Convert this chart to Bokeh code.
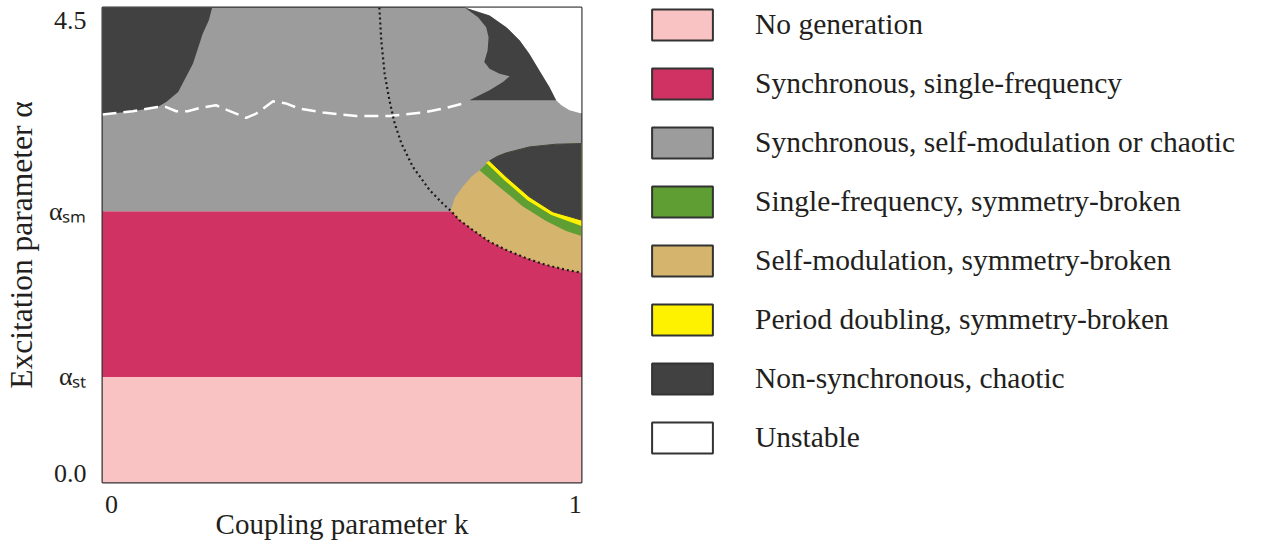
from bokeh.plotting import figure
from bokeh.models import FixedTicker, Legend, LegendItem
from bokeh.embed import file_html
from bokeh.resources import INLINE

# ---------------- data ----------------
alpha_st = 1.0
alpha_sm = 2.57
alpha_max = 4.5

band_bottom = [0.0, alpha_st, alpha_sm]
band_top = [alpha_st, alpha_sm, alpha_max]

# top-left non-synchronous chaotic region
tl_k = [0.0, 0.229, 0.222, 0.209, 0.189, 0.158, 0.133, 0.115, 0.063, 0.0]
tl_a = [4.5, 4.5, 4.38, 4.25, 3.97, 3.70, 3.605, 3.557, 3.517, 3.486]

# unstable (white) region, top right
un_k = [0.756, 0.808, 0.843, 0.871, 0.891, 0.912, 0.933, 0.947, 0.958, 0.975, 0.996, 1.0, 1.0]
un_a = [4.5, 4.424, 4.314, 4.188, 4.062, 3.904, 3.747, 3.621, 3.574, 3.526, 3.501, 3.498, 4.5]

# top-right non-synchronous chaotic region
tr_k = [0.756, 0.808, 0.843, 0.871, 0.891, 0.912, 0.933, 0.947, 0.766, 0.808, 0.836,
        0.850, 0.829, 0.808, 0.797, 0.804, 0.806, 0.801, 0.784]
tr_a = [4.5, 4.424, 4.314, 4.188, 4.062, 3.904, 3.747, 3.621, 3.621, 3.715, 3.794,
        3.848, 3.873, 3.920, 3.983, 4.093, 4.219, 4.314, 4.408]

# self-modulation, symmetry-broken (tan)
tan_k = [0.727, 0.745, 0.773, 0.808, 0.843, 0.885, 0.926, 0.968, 1.0, 1.0, 0.947, 0.891,
         0.843, 0.825, 0.808, 0.787, 0.770, 0.752, 0.735]
tan_a = [2.574, 2.486, 2.392, 2.281, 2.203, 2.124, 2.061, 2.014, 1.988, 3.211, 3.205, 3.179,
         3.123, 3.091, 3.047, 2.959, 2.896, 2.801, 2.692]

# single-frequency, symmetry-broken (green)
green_k = [0.787, 0.829, 0.877, 0.926, 0.968, 1.0, 1.0, 0.947, 0.891, 0.843, 0.825, 0.808]
green_a = [2.959, 2.798, 2.618, 2.477, 2.382, 2.335, 3.211, 3.205, 3.179, 3.123, 3.091, 3.047]

# period doubling, symmetry-broken (yellow)
yellow_k = [0.801, 0.839, 0.887, 0.937, 1.0, 1.0, 0.947, 0.891, 0.843, 0.825, 0.808]
yellow_a = [3.030, 2.864, 2.675, 2.534, 2.430, 3.211, 3.205, 3.179, 3.123, 3.091, 3.047]

# non-synchronous chaotic bubble (right)
bub_k = [0.808, 0.843, 0.891, 0.940, 1.0, 1.0, 0.947, 0.891, 0.843, 0.825]
bub_a = [3.047, 2.896, 2.707, 2.565, 2.486, 3.211, 3.205, 3.179, 3.123, 3.091]

# white dashed line
dash_k = [0.0, 0.063, 0.115, 0.133, 0.154, 0.178, 0.203, 0.237, 0.262, 0.300, 0.321,
          0.356, 0.384, 0.411, 0.460, 0.530, 0.599, 0.669, 0.717, 0.752]
dash_a = [3.486, 3.517, 3.557, 3.557, 3.517, 3.517, 3.548, 3.574, 3.526, 3.454, 3.495,
          3.611, 3.590, 3.542, 3.505, 3.472, 3.472, 3.505, 3.548, 3.590]

# black dotted boundary
dot_k = [0.578, 0.582, 0.589, 0.599, 0.610, 0.624, 0.648, 0.683, 0.710, 0.727, 0.745,
         0.773, 0.808, 0.843, 0.885, 0.926, 0.968, 1.0]
dot_a = [4.5, 4.188, 3.873, 3.621, 3.401, 3.212, 2.990, 2.770, 2.644, 2.574, 2.486,
         2.392, 2.281, 2.203, 2.124, 2.061, 2.014, 1.988]

x_tick_pos = [0.019, 0.987]
x_tick_text = ["0", "1"]
y_tick_pos = [0.085, alpha_st, alpha_sm, 4.377]
y_tick_text = ["0.0", "α\u209b\u209c", "α\u209b\u2098", "4.5"]

legend_labels = [
    "No generation",
    "Synchronous, single-frequency",
    "Synchronous, self-modulation or chaotic",
    "Single-frequency, symmetry-broken",
    "Self-modulation, symmetry-broken",
    "Period doubling, symmetry-broken",
    "Non-synchronous, chaotic",
    "Unstable",
]

# ---------------- styles ----------------
PINK = "#FAC3C3"
CRIMSON = "#CF3263"
GRAY = "#9C9C9C"
GREEN = "#5E9E32"
TAN = "#D5B46D"
YELLOW = "#FFF200"
DARK = "#414141"
WHITE = "#FFFFFF"
legend_colors = [PINK, CRIMSON, GRAY, GREEN, TAN, YELLOW, DARK, WHITE]
TXT = "#231F20"
FONT = "Liberation Serif"
NAN = float("nan")

p = figure(width=None, height=None, frame_width=479, frame_height=475,
           x_range=(0, 1), y_range=(0, alpha_max),
           output_backend="svg", toolbar_location=None,
           min_border_left=95, min_border_right=673, min_border_top=7, min_border_bottom=56)
p.xgrid.visible = False
p.ygrid.visible = False
p.outline_line_color = "#333333"
p.outline_line_width = 2
p.background_fill_color = None
p.border_fill_color = None

p.quad(left=0, right=1, bottom=band_bottom, top=band_top,
       fill_color=[PINK, CRIMSON, GRAY], line_color=None)
p.patch(tl_k, tl_a, fill_color=DARK, line_color=None)
p.patch(un_k, un_a, fill_color=WHITE, line_color=None)
p.patch(tr_k, tr_a, fill_color=DARK, line_color=None)
p.patch(tan_k, tan_a, fill_color=TAN, line_color=None)
p.patch(green_k, green_a, fill_color=GREEN, line_color=None)
p.patch(yellow_k, yellow_a, fill_color=YELLOW, line_color=None)
p.patch(bub_k, bub_a, fill_color=DARK, line_color=DARK, line_width=1)
p.line(dash_k, dash_a, line_color="white", line_width=2.5, line_dash="14 7")
p.line(dot_k, dot_a, line_color="#1a1a1a", line_width=2.2, line_dash="2 3")

# axes
for ax in (p.xaxis[0], p.yaxis[0]):
    ax.axis_line_color = None
    ax.major_tick_line_color = None
    ax.minor_tick_line_color = None
    ax.major_label_text_font = FONT
    ax.major_label_text_font_size = "26px"
    ax.major_label_text_color = TXT
    ax.axis_label_text_font = FONT
    ax.axis_label_text_font_style = "normal"
    ax.axis_label_text_color = TXT

p.xaxis.ticker = FixedTicker(ticks=x_tick_pos)
p.xaxis.major_label_overrides = dict(zip(x_tick_pos, x_tick_text))
p.xaxis.major_label_standoff = 7
p.xaxis.axis_label = "Coupling parameter k"
p.xaxis.axis_label_text_font_size = "29px"
p.xaxis.axis_label_standoff = -8

p.yaxis.ticker = FixedTicker(ticks=y_tick_pos)
p.yaxis.major_label_overrides = dict(zip(y_tick_pos, y_tick_text))
p.yaxis.major_label_standoff = 10
p.yaxis.axis_label = "Excitation parameter α"
p.yaxis.axis_label_text_font_size = "31.5px"
p.yaxis.axis_label_standoff = 7

# legend (swatch renderers hold no drawable data)
items = []
for lbl, col in zip(legend_labels, legend_colors):
    r = p.quad(left=[NAN], right=[NAN], bottom=[NAN], top=[NAN], fill_color=col,
               line_color="#333333", line_width=2)
    items.append(LegendItem(label=lbl, renderers=[r]))

legend = Legend(items=items, location=(63, 25), padding=0, margin=0,
                glyph_width=76, glyph_height=39, label_height=39, spacing=20,
                label_standoff=35, border_line_color=None, background_fill_alpha=0,
                label_text_font=FONT, label_text_font_size="29.5px",
                label_text_color=TXT)
p.add_layout(legend, "right")

open("out.html", "w").write(file_html(p, INLINE))
